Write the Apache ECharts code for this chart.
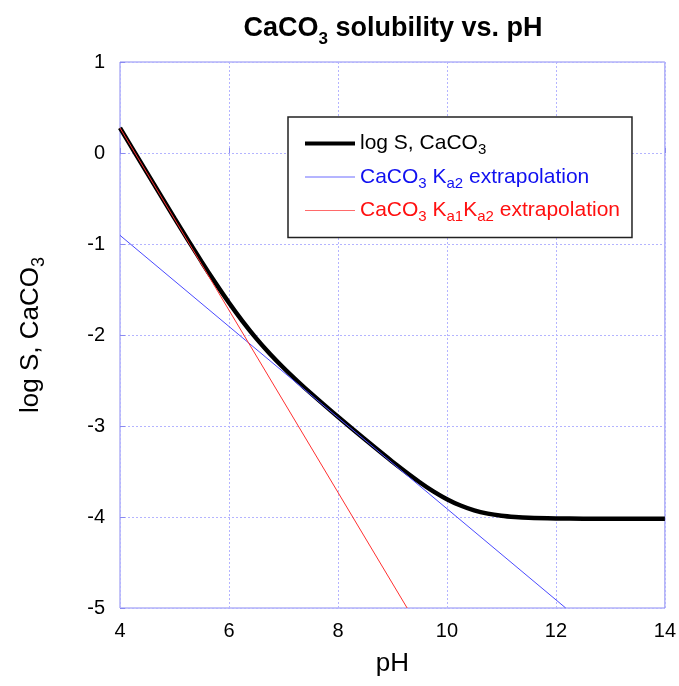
<!DOCTYPE html>
<html><head><meta charset="utf-8">
<script src="https://cdn.jsdelivr.net/npm/echarts@6/dist/echarts.min.js"></script>
<style>html,body{margin:0;padding:0;background:#fff}#c{width:679px;height:686px}</style>
</head><body><div id="c"></div>
<script>
// Data
const pH = [4,4.5,5,5.5,5.75,6,6.25,6.5,6.75,7,7.25,7.5,8,8.5,9,9.5,9.75,10,10.25,10.5,10.75,11,11.25,11.5,12,12.5,13,13.5,14];
const logS = [0.276,-0.222,-0.716,-1.197,-1.427,-1.646,-1.850,-2.037,-2.206,-2.360,-2.503,-2.639,-2.899,-3.149,-3.392,-3.618,-3.718,-3.804,-3.874,-3.927,-3.963,-3.986,-4.000,-4.009,-4.016,-4.019,-4.020,-4.020,-4.020];
const ka2X = [4, 12.18];
const ka2Y = [-0.905, -5.0];
const ka1ka2X = [4, 9.27];
const ka1ka2Y = [0.275, -5.0];
const xTickLabels = ['4','6','8','10','12','14'];
const yTickLabels = ['-5','-4','-3','-2','-1','0','1'];
const seriesNames = ['log S, CaCO3','CaCO3 Ka2 extrapolation','CaCO3 Ka1Ka2 extrapolation'];
const legendRich = {
  'log S, CaCO3': 'log S, CaCO{sub|3}',
  'CaCO3 Ka2 extrapolation': 'CaCO{sub|3} K{sub|a2} extrapolation',
  'CaCO3 Ka1Ka2 extrapolation': 'CaCO{sub|3} K{sub|a1}K{sub|a2} extrapolation'
};

const zip = (xs, ys) => xs.map((x, i) => [x, ys[i]]);
const FONT = '"Liberation Sans", Arial, Helvetica, sans-serif';

const chart = echarts.init(document.getElementById('c'), null, {renderer: 'canvas'});
chart.setOption({
  animation: false,
  backgroundColor: '#fff',
  title: {
    text: 'CaCO{sub|3} solubility vs. pH',
    left: 388, top: 4, textAlign: 'center',
    textStyle: {
      fontFamily: FONT, fontSize: 27, fontWeight: 'bold', color: '#000',
      rich: { sub: { fontFamily: FONT, fontSize: 17, fontWeight: 'bold', color: '#000', padding: [22, 0, 0, 0] } }
    }
  },
  grid: { left: 120, right: 13, top: 62, bottom: 78, show: true, borderColor: '#8a8af0', borderWidth: 1, backgroundColor: '#fff' },
  legend: {
    orient: 'vertical', left: 288, top: 117,
    padding: [16, 12, 13, 15],
    backgroundColor: '#fff', borderColor: '#222', borderWidth: 1.5,
    itemWidth: 50, itemHeight: 14, itemGap: 9,
    itemStyle: { opacity: 0 },
    data: [
      { name: seriesNames[0], textStyle: { color: '#000' }, lineStyle: { width: 4, color: '#000' } },
      { name: seriesNames[1], textStyle: { color: '#1010f0' }, lineStyle: { width: 1, color: '#6a6aff' } },
      { name: seriesNames[2], textStyle: { color: '#ff1010' }, lineStyle: { width: 1, color: '#ff6a6a' } }
    ],
    formatter: n => legendRich[n],
    textStyle: {
      fontFamily: FONT, fontSize: 21,
      rich: { sub: { fontFamily: FONT, fontSize: 15, padding: [13, 0, 0, 0] } }
    }
  },
  xAxis: {
    type: 'value', min: 4, max: 14, interval: 2,
    name: 'pH', nameLocation: 'middle', nameGap: 43,
    nameTextStyle: { fontFamily: FONT, fontSize: 26, color: '#000' },
    axisLine: { show: false },
    axisTick: { show: true, inside: true, length: 5, lineStyle: { color: '#8a8af0' } },
    axisLabel: { fontFamily: FONT, fontSize: 20, color: '#000', margin: 13,
      formatter: v => xTickLabels[(v - 4) / 2] },
    splitLine: { show: true, lineStyle: { color: '#b4b4ff', type: [2, 2], width: 1 } }
  },
  yAxis: {
    type: 'value', min: -5, max: 1, interval: 1,
    name: 'log S, CaCO{sub|3}', nameLocation: 'middle', nameGap: 72, nameRotate: 90,
    nameTextStyle: { fontFamily: FONT, fontSize: 26, color: '#000',
      rich: { sub: { fontFamily: FONT, fontSize: 18, color: '#000', padding: [16, 0, 0, 0] } } },
    axisLine: { show: false },
    axisTick: { show: true, inside: true, length: 5, lineStyle: { color: '#8a8af0' } },
    axisLabel: { fontFamily: FONT, fontSize: 20, color: '#000', margin: 15,
      formatter: v => yTickLabels[v + 5] },
    splitLine: { show: true, lineStyle: { color: '#b4b4ff', type: [2, 2], width: 1 } }
  },
  series: [
    { name: seriesNames[0], type: 'line', data: zip(pH, logS), smooth: 0.3, symbol: 'none',
      lineStyle: { color: '#000', width: 4.5 }, itemStyle: { color: '#000' }, z: 2 },
    { name: seriesNames[1], type: 'line', data: zip(ka2X, ka2Y), symbol: 'none',
      lineStyle: { color: '#4a4aff', width: 1 }, itemStyle: { color: '#4a4aff' }, z: 3 },
    { name: seriesNames[2], type: 'line', data: zip(ka1ka2X, ka1ka2Y), symbol: 'none',
      lineStyle: { color: '#ff3030', width: 1 }, itemStyle: { color: '#ff3030' }, z: 4 }
  ]
});
</script>
</body></html>
